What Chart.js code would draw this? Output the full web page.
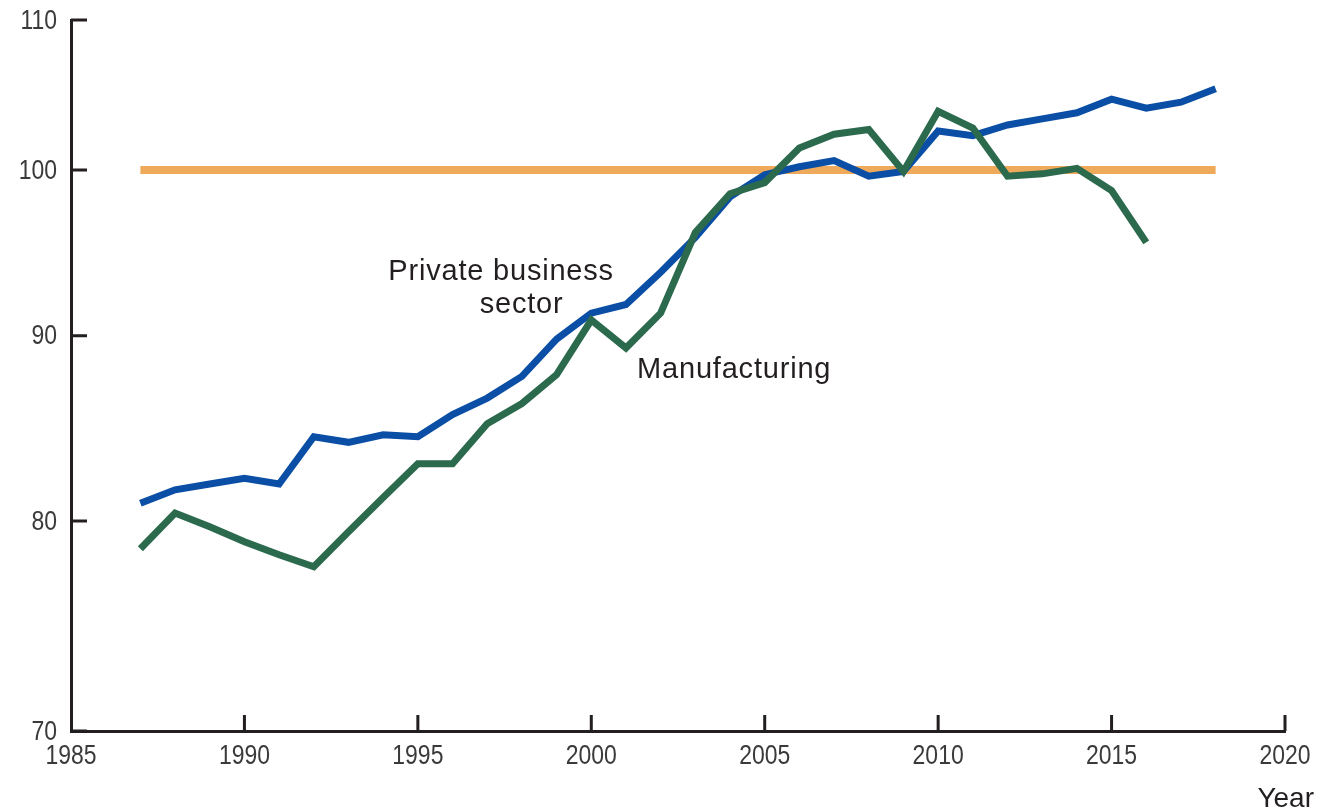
<!DOCTYPE html>
<html>
<head>
<meta charset="utf-8">
<title>Productivity index</title>
<script src="https://cdn.jsdelivr.net/npm/chart.js@4.4.1/dist/chart.umd.min.js"></script>
<style>
  html, body { margin: 0; padding: 0; background: #fff; }
  #wrap { width: 1329px; height: 810px; position: relative; }
</style>
</head>
<body>
<div id="wrap"><canvas id="chart"></canvas></div>
<script>
  // values (index, 2009 = 100)
  const businessYears = [1987,1988,1989,1990,1991,1992,1993,1994,1995,1996,1997,1998,1999,2000,2001,2002,
                         2003,2004,2005,2006,2007,2008,2009,2010,2011,2012,2013,2014,2015,2016,2017,2018];
  const businessValues = [80.9,81.6,81.9,82.2,81.9,84.4,84.1,84.5,84.4,85.6,86.5,87.7,89.8,91.3,91.8,93.7,
                          95.8,98.3,99.7,100.2,100.6,99.6,99.9,102.5,102.2,102.9,103.3,103.7,104.6,104.0,104.4,105.3];
  const mfgYears = [1987,1988,1989,1990,1991,1992,1993,1994,1995,1996,1997,1998,1999,2000,2001,2002,
                    2003,2004,2005,2006,2007,2008,2009,2010,2011,2012,2013,2014,2015,2016];
  const mfgValues = [78.6,80.4,79.7,78.95,78.3,77.7,79.45,81.2,82.96,82.96,85.1,86.2,87.8,90.9,89.3,91.3,
                     96.1,98.5,99.2,101.4,102.3,102.6,99.9,103.8,102.7,99.6,99.75,100.1,98.7,95.5];
  const baseYears = [1987, 2018];
  const baseValues = [100, 100];

  const yTicks = [70, 80, 90, 100, 110];
  const xTicks = [1985, 1990, 1995, 2000, 2005, 2010, 2015, 2020];

  const blue = 'rgb(10,78,165)';
  const green = 'rgb(44,106,78)';
  const orange = 'rgb(238,170,90)';
  const ink = '#231f20';
  const tickInk = '#3a3a3a';

  function pairs(xs, ys) {
    return xs.map((x, k) => ({x: x, y: ys[k]}));
  }

  // line labels, placed in data units
  const notes = [
    {text: 'Private business', x: 1997.40, y: 93.25, align: 'center'},
    {text: 'sector', x: 1997.99, y: 91.31, align: 'center'},
    {text: 'Manufacturing', x: 2001.32, y: 87.62, align: 'left'}
  ];

  // condensed tick label, like the printed chart
  function narrowText(ctx, text, px, py, align) {
    ctx.save();
    ctx.translate(px, py);
    ctx.scale(0.82, 1);
    ctx.textAlign = align;
    ctx.fillText(text, 0, 0);
    ctx.restore();
  }

  const axisDecor = {
    id: 'axisDecor',
    afterDraw: (chart) => {
      const {ctx, scales: {x, y}} = chart;
      ctx.save();
      ctx.strokeStyle = ink;
      ctx.lineWidth = 3;
      ctx.beginPath();
      yTicks.forEach(v => {
        const py = y.getPixelForValue(v);
        ctx.moveTo(x.left, py);
        ctx.lineTo(x.left + 16, py);
      });
      xTicks.forEach(v => {
        if (v === 1985) return;
        const px = x.getPixelForValue(v);
        ctx.moveTo(px, y.bottom);
        ctx.lineTo(px, y.bottom - 16);
      });
      ctx.stroke();

      ctx.fillStyle = tickInk;
      ctx.font = '28px "Liberation Sans", Arial, sans-serif';
      ctx.textBaseline = 'middle';
      yTicks.forEach(v => narrowText(ctx, String(v), x.left - 14, y.getPixelForValue(v) + 1, 'right'));
      xTicks.forEach(v => narrowText(ctx, String(v), x.getPixelForValue(v), y.bottom + 25, 'center'));

      ctx.fillStyle = ink;
      ctx.font = '29px "Liberation Sans", Arial, sans-serif';
      ctx.letterSpacing = '0.8px';
      ctx.textBaseline = 'alphabetic';
      notes.forEach(n => {
        ctx.textAlign = n.align;
        ctx.fillText(n.text, x.getPixelForValue(n.x), y.getPixelForValue(n.y));
      });

      ctx.letterSpacing = '0px';
      ctx.font = '28px "Liberation Sans", Arial, sans-serif';
      ctx.textAlign = 'right';
      ctx.fillText('Year', chart.width - 15, chart.height - 3);
      ctx.restore();
    }
  };

  new Chart('chart', {
    type: 'line',
    data: {
      datasets: [
        {label: 'Manufacturing', data: pairs(mfgYears, mfgValues), borderColor: green, borderWidth: 7},
        {label: 'Private business sector', data: pairs(businessYears, businessValues), borderColor: blue, borderWidth: 7},
        {label: 'Base', data: pairs(baseYears, baseValues), borderColor: orange, borderWidth: 8}
      ]
    },
    options: {
      responsive: true,
      maintainAspectRatio: false,
      animation: false,
      elements: {
        point: {radius: 0, hoverRadius: 0},
        line: {tension: 0, fill: false, borderJoinStyle: 'miter', borderCapStyle: 'butt'}
      },
      layout: {padding: {top: 20, right: 44, left: 0, bottom: 0}},
      plugins: {legend: {display: false}, tooltip: {enabled: false}},
      scales: {
        x: {
          type: 'linear',
          min: 1985,
          max: 2020,
          afterBuildTicks: (scale) => { scale.ticks = xTicks.map(v => ({value: v})); },
          afterFit: (scale) => { scale.height = 79; },
          ticks: {display: false},
          grid: {display: false, drawTicks: false},
          border: {display: true, color: ink, width: 3}
        },
        y: {
          type: 'logarithmic',
          min: 70,
          max: 110,
          afterBuildTicks: (scale) => { scale.ticks = yTicks.map(v => ({value: v})); },
          afterFit: (scale) => { scale.width = 71; },
          ticks: {display: false},
          grid: {display: false, drawTicks: false},
          border: {display: true, color: ink, width: 3}
        }
      }
    },
    plugins: [axisDecor]
  });
</script>
</body>
</html>
